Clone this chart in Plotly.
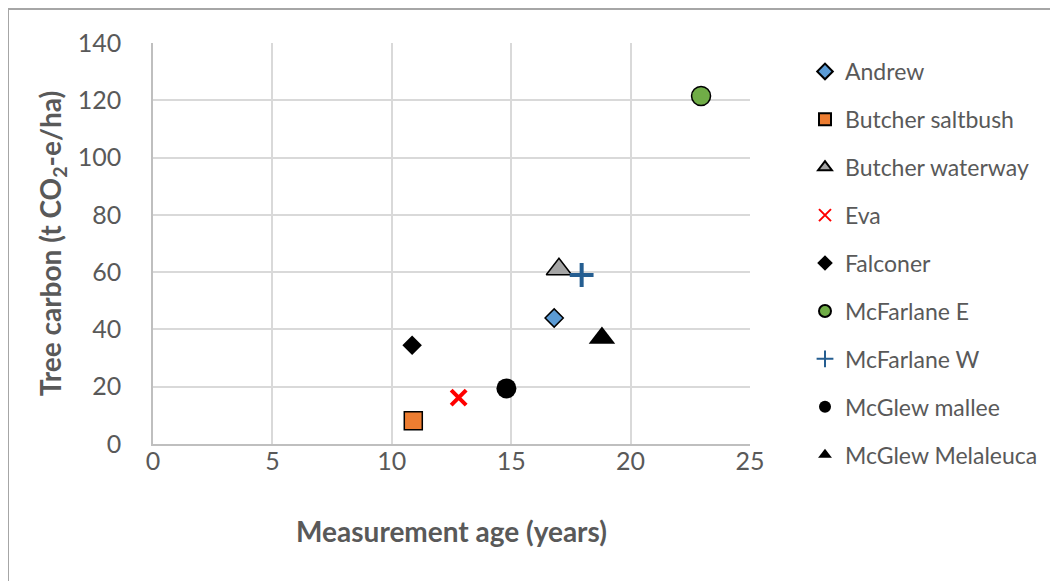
import plotly.graph_objects as go

names = ["Andrew", "Butcher saltbush", "Butcher waterway", "Eva", "Falconer",
         "McFarlane E", "McFarlane W", "McGlew mallee", "McGlew Melaleuca"]
ages = [16.8, 10.9, 17.0, 12.8, 10.85, 22.95, 17.95, 14.8, 18.8]
carbon = [44.0, 8.1, 61.0, 16.2, 34.5, 121.5, 59.0, 19.4, 37.0]

x_ticks = [0, 5, 10, 15, 20, 25]
y_ticks = [0, 20, 40, 60, 80, 100, 120, 140]

styles = [
    dict(symbol="diamond", size=14, color="#5B9BD5", line=dict(color="black", width=1.5)),
    dict(symbol="square", size=18, color="#ED7D31", line=dict(color="black", width=1.5)),
    dict(symbol="triangle-up", size=22, color="#A5A5A5", line=dict(color="black", width=1.5)),
    dict(symbol="x-thin", size=15, color="#FF0000", line=dict(color="#FF0000", width=4)),
    dict(symbol="diamond", size=15, color="black", line=dict(color="black", width=0)),
    dict(symbol="circle", size=19, color="#70AD47", line=dict(color="black", width=1.5)),
    dict(symbol="cross-thin", size=17, color="#255E91", line=dict(color="#255E91", width=4)),
    dict(symbol="circle", size=20, color="black", line=dict(color="black", width=0)),
    dict(symbol="triangle-up", size=23, color="black", line=dict(color="black", width=0)),
]

fig = go.Figure()
for i, (n, xa, yc) in enumerate(zip(names, ages, carbon)):
    fig.add_trace(go.Scatter(
        x=[xa], y=[yc], mode="markers", name=n, legendgroup=n,
        marker=styles[i], cliponaxis=False,
    ))

font = "Lato, 'Open Sans', sans-serif"
W, H = 1050, 573
L, R, T, B = 145, 742, 35, 436
pw, ph = R - L, B - T

def px(x):
    return (x - L) / pw

def py(y):
    return (B - y) / ph

fig.update_layout(
    width=W, height=H,
    margin=dict(l=L, r=W - R, t=T, b=H - B),
    paper_bgcolor="white", plot_bgcolor="white",
    font=dict(family=font, color="#595959", size=25),
    showlegend=True,
    legend=dict(
        x=px(797), xanchor="left", y=py(42), yanchor="top",
        font=dict(size=23, color="#595959"),
        traceorder="grouped", tracegroupgap=15,
        itemsizing="constant", maxheight=1000,
        bgcolor="rgba(0,0,0,0)",
    ),
    xaxis=dict(
        range=[0, 25], tickvals=x_ticks, showgrid=True, gridcolor="#d9d9d9", gridwidth=1.5,
        showline=True, linecolor="#bfbfbf", linewidth=1.5, zeroline=False,
        ticks="", ticklabelstandoff=-6, tickfont=dict(size=25, color="#595959"),
        title=dict(text="<b>Measurement age (years)</b>", font=dict(size=28, color="#595959"), standoff=49),
    ),
    yaxis=dict(
        range=[0, 140], tickvals=y_ticks, showgrid=True, gridcolor="#d9d9d9", gridwidth=1.5,
        showline=True, linecolor="#bfbfbf", linewidth=1.5, zeroline=False,
        ticks="", ticklabelstandoff=25, tickfont=dict(size=25, color="#595959"),
        title=dict(text="<b>Tree carbon (t CO<sub>2</sub>-e/ha)</b>", font=dict(size=28, color="#595959"), standoff=8),
    ),
    shapes=[dict(type="rect", xref="paper", yref="paper",
                 x0=px(0), x1=px(1080), y0=py(600), y1=py(1),
                 line=dict(color="#a6a6a6", width=2), fillcolor="rgba(0,0,0,0)", layer="below")],
)

fig.write_html("out.html")
